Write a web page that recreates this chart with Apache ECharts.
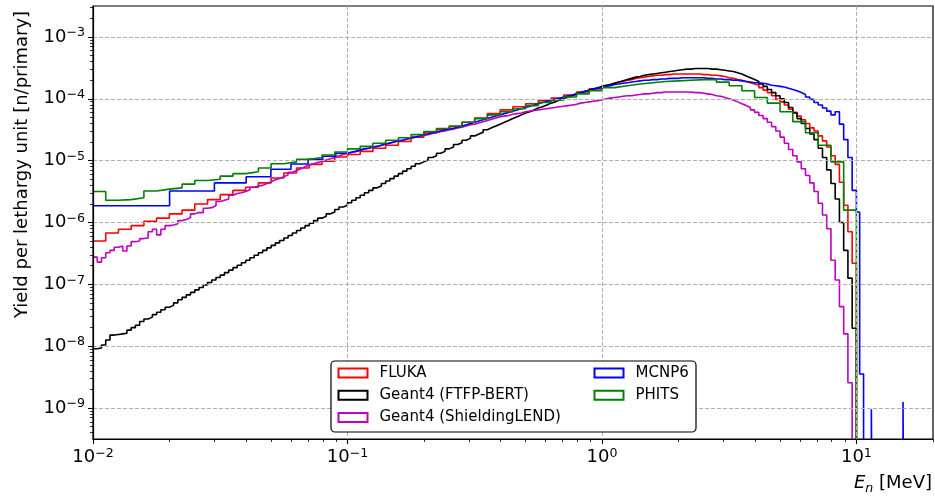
<!DOCTYPE html>
<html>
<head>
<meta charset="utf-8">
<script src="https://cdn.jsdelivr.net/npm/echarts@6.0.0/dist/echarts.min.js"></script>
<style>html,body{margin:0;padding:0;background:#fff}#chart{width:935px;height:500px}</style>
</head>
<body>
<div id="chart"></div>
<script>
// ---------------- data (log10 of yield per lethargy unit, n/primary) ----------------
const SERIES_NAMES = ['FLUKA', 'Geant4 (FTFP-BERT)', 'Geant4 (ShieldingLEND)', 'MCNP6', 'PHITS'];
const SERIES_COLORS = ['#ff0000', '#000000', '#bf00bf', '#0000ff', '#008000'];

// FLUKA: 20 bins/decade 0.01-1 MeV, then 60 bins/decade 1-10 MeV
const FLUKA_LOW_LOG = [
 -6.30,-6.17,-6.11,-6.05,-5.98,-5.93,-5.86,-5.80,-5.70,-5.63,
 -5.55,-5.48,-5.43,-5.36,-5.28,-5.20,-5.12,-5.06,-5.01,-4.94,
 -4.90,-4.85,-4.80,-4.75,-4.69,-4.62,-4.55,-4.50,-4.45,-4.38,
 -4.31,-4.24,-4.18,-4.13,-4.08,-4.03,-3.99,-3.94,-3.89,-3.84
];
const FLUKA_HIGH_LOG = [
 -3.79,-3.77,-3.75,-3.73,-3.72,-3.70,
 -3.69,-3.67,-3.66,-3.65,-3.64,-3.63,
 -3.62,-3.62,-3.61,-3.61,-3.60,-3.60,
 -3.60,-3.60,-3.60,-3.60,-3.60,-3.61,
 -3.61,-3.62,-3.62,-3.63,-3.64,-3.66,
 -3.67,-3.69,-3.70,-3.72,-3.74,-3.76,
 -3.78,-3.82,-3.86,-3.90,-3.95,-4.01,
 -4.05,-4.10,-4.17,-4.22,-4.28,-4.34,
 -4.40,-4.47,-4.52,-4.60,-4.68,-4.78,
 -4.92,-5.06,-5.35,-5.72,-6.15,-6.66
];

// Geant4 (FTFP-BERT): 60 bins/decade, 0.01-10 MeV
const G4_FTFP_LOG = [
 -8.04,-8.03,-7.98,-7.90,-7.82,-7.81,
 -7.80,-7.79,-7.74,-7.70,-7.66,-7.60,
 -7.56,-7.53,-7.49,-7.45,-7.41,-7.37,
 -7.34,-7.30,-7.25,-7.21,-7.17,-7.13,
 -7.09,-7.05,-7.01,-6.97,-6.93,-6.89,
 -6.85,-6.81,-6.77,-6.73,-6.69,-6.65,
 -6.61,-6.57,-6.53,-6.49,-6.45,-6.41,
 -6.37,-6.33,-6.29,-6.25,-6.21,-6.17,
 -6.13,-6.09,-6.05,-6.01,-5.97,-5.93,
 -5.90,-5.86,-5.83,-5.79,-5.75,-5.72,
 -5.68,-5.64,-5.60,-5.56,-5.52,-5.48,
 -5.44,-5.41,-5.37,-5.33,-5.29,-5.25,
 -5.21,-5.17,-5.13,-5.09,-5.05,-5.02,
 -4.99,-4.95,-4.92,-4.88,-4.85,-4.81,
 -4.78,-4.74,-4.71,-4.67,-4.64,-4.60,
 -4.57,-4.54,-4.50,-4.47,-4.44,-4.41,
 -4.38,-4.35,-4.32,-4.29,-4.26,-4.23,
 -4.21,-4.18,-4.15,-4.13,-4.10,-4.07,
 -4.05,-4.02,-4.00,-3.97,-3.95,-3.92,
 -3.90,-3.88,-3.86,-3.84,-3.82,-3.80,
 -3.78,-3.77,-3.75,-3.73,-3.71,-3.69,
 -3.67,-3.65,-3.64,-3.62,-3.61,-3.60,
 -3.59,-3.58,-3.57,-3.56,-3.55,-3.54,
 -3.53,-3.52,-3.52,-3.51,-3.51,-3.51,
 -3.51,-3.52,-3.52,-3.53,-3.54,-3.55,
 -3.56,-3.58,-3.60,-3.63,-3.66,-3.69,
 -3.72,-3.76,-3.80,-3.85,-3.90,-3.95,
 -4.00,-4.06,-4.14,-4.23,-4.32,-4.40,
 -4.48,-4.57,-4.66,-4.80,-4.95,-5.15,
 -5.37,-5.62,-6.00,-6.45,-6.90,-7.71
];

// Geant4 (ShieldingLEND): 60 bins/decade
const G4_SHIELD_LOG = [
 -6.56,-6.64,-6.57,-6.49,-6.45,-6.40,
 -6.38,-6.46,-6.38,-6.31,-6.30,-6.26,
 -6.25,-6.15,-6.11,-6.20,-6.11,-6.05,
 -6.04,-6.02,-5.97,-5.95,-5.92,-5.86,
 -5.84,-5.84,-5.77,-5.76,-5.73,-5.66,
 -5.64,-5.62,-5.56,-5.53,-5.52,-5.50,
 -5.47,-5.43,-5.41,-5.40,-5.37,-5.34,
 -5.31,-5.29,-5.26,-5.23,-5.19,-5.16,
 -5.13,-5.10,-5.07,-5.05,-5.03,-5.01,
 -4.99,-4.97,-4.95,-4.92,-4.90,-4.88,
 -4.87,-4.85,-4.83,-4.81,-4.80,-4.78,
 -4.77,-4.75,-4.73,-4.71,-4.70,-4.68,
 -4.67,-4.65,-4.64,-4.62,-4.61,-4.59,
 -4.58,-4.56,-4.55,-4.53,-4.52,-4.50,
 -4.49,-4.47,-4.46,-4.44,-4.42,-4.41,
 -4.39,-4.37,-4.35,-4.33,-4.31,-4.29,
 -4.28,-4.27,-4.25,-4.24,-4.23,-4.21,
 -4.20,-4.19,-4.18,-4.17,-4.16,-4.15,
 -4.14,-4.13,-4.12,-4.11,-4.10,-4.09,
 -4.07,-4.06,-4.05,-4.04,-4.03,-4.02,
 -4.00,-3.99,-3.98,-3.97,-3.96,-3.95,
 -3.95,-3.94,-3.93,-3.92,-3.92,-3.91,
 -3.90,-3.90,-3.89,-3.89,-3.89,-3.89,
 -3.89,-3.89,-3.89,-3.90,-3.90,-3.91,
 -3.92,-3.93,-3.95,-3.96,-3.98,-4.00,
 -4.02,-4.05,-4.08,-4.11,-4.14,-4.18,
 -4.22,-4.27,-4.32,-4.38,-4.45,-4.52,
 -4.62,-4.72,-4.82,-4.92,-5.02,-5.13,
 -5.24,-5.36,-5.50,-5.69,-5.88,-6.10,
 -6.61,-6.93,-7.36,-7.80,-8.59
];

// MCNP6: 0.01 MeV linear bins up to 0.1 MeV, 60 bins/decade 0.1-10 MeV, sparse tail
const MCNP_LOW_EDGES = [0.01,0.02,0.03,0.04,0.05,0.06,0.07,0.08,0.09,0.10];
const MCNP_LOW_LOG = [-5.73,-5.49,-5.36,-5.26,-5.14,-5.055,-4.98,-4.93,-4.88];
const MCNP_MID_LOG = [
 -4.86,-4.85,-4.83,-4.81,-4.80,-4.78,
 -4.77,-4.75,-4.73,-4.72,-4.70,-4.68,
 -4.67,-4.65,-4.63,-4.62,-4.60,-4.58,
 -4.57,-4.55,-4.54,-4.52,-4.50,-4.49,
 -4.48,-4.46,-4.44,-4.42,-4.40,-4.38,
 -4.36,-4.34,-4.32,-4.30,-4.28,-4.26,
 -4.24,-4.22,-4.20,-4.18,-4.16,-4.14,
 -4.12,-4.10,-4.08,-4.06,-4.04,-4.03,
 -4.01,-3.99,-3.97,-3.95,-3.94,-3.92,
 -3.90,-3.88,-3.87,-3.85,-3.83,-3.82,
 -3.80,-3.79,-3.77,-3.76,-3.75,-3.74,
 -3.73,-3.72,-3.71,-3.70,-3.70,-3.69,
 -3.69,-3.68,-3.68,-3.67,-3.67,-3.67,
 -3.66,-3.66,-3.66,-3.66,-3.66,-3.66,
 -3.67,-3.67,-3.68,-3.68,-3.69,-3.69,
 -3.70,-3.70,-3.71,-3.72,-3.73,-3.74,
 -3.74,-3.75,-3.76,-3.78,-3.79,-3.80,
 -3.81,-3.83,-3.85,-3.87,-3.90,-3.93,
 -3.97,-4.01,-4.06,-4.10,-4.15,-4.20,
 -4.26,-4.21,-4.41,-4.66,-4.95,-5.48
];
const MCNP_TAIL_EDGES = [10.3, 10.67, 11.45, 11.62, 15.25, 15.45];
const MCNP_TAIL_LOG = [-5.83, -8.45, null, -9.02, null, -8.90];

// PHITS: 20 bins/decade, 0.01-10 MeV
const PHITS_LOG = [
 -5.50,-5.64,-5.63,-5.60,-5.49,-5.46,-5.44,-5.38,-5.32,-5.30,
 -5.25,-5.21,-5.18,-5.12,-5.05,-5.02,-4.98,-4.95,-4.91,-4.86,
 -4.81,-4.77,-4.72,-4.67,-4.63,-4.58,-4.53,-4.48,-4.44,-4.38,
 -4.32,-4.26,-4.21,-4.16,-4.11,-4.06,-4.02,-3.97,-3.92,-3.87,
 -3.82,-3.79,-3.76,-3.74,-3.72,-3.71,-3.70,-3.69,-3.69,-3.73,
 -3.79,-3.87,-3.98,-4.07,-4.21,-4.37,-4.55,-4.75,-5.02,-5.80
];

// axis ticks
const X_MAJOR_TICKS = [0.01, 0.1, 1, 10];
const Y_MAJOR_TICKS = [1e-9, 1e-8, 1e-7, 1e-6, 1e-5, 1e-4, 1e-3];
const MINOR_MANTISSAS = [2, 3, 4, 5, 6, 7, 8, 9];
const X_MINOR_DECADES = [0.01, 0.1, 1, 10];
const Y_MINOR_DECADES = [1e-10, 1e-9, 1e-8, 1e-7, 1e-6, 1e-5, 1e-4, 1e-3];
const X_RANGE = [0.01, 20];
const Y_RANGE = [3.162e-10, 3.162e-3];

// ---------------- helpers ----------------
const FLOOR = 1e-14; // stands for an empty bin (zero) on the log axis
function logEdges(exp0, perDecade, n) {
  const e = [];
  for (let i = 0; i <= n; i++) e.push(Math.pow(10, exp0 + i / perDecade));
  return e;
}
function histogram(edges, logVals) {
  const pts = [];
  for (let i = 0; i < logVals.length; i++) {
    pts.push([edges[i], logVals[i] === null ? FLOOR : Math.pow(10, logVals[i])]);
  }
  const n = logVals.length;
  pts.push([edges[n], pts[pts.length - 1][1]]);
  pts.push([edges[n], FLOOR]);
  return pts;
}
function minorTicks(decades, lo, hi) {
  const out = [];
  decades.forEach(d => MINOR_MANTISSAS.forEach(m => {
    const v = m * d;
    if (v >= lo * 0.999 && v <= hi * 1.001) out.push(v);
  }));
  return out;
}

const flukaEdges = logEdges(-2, 20, 40).concat(logEdges(0, 60, 60).slice(1));
const flukaLog = FLUKA_LOW_LOG.concat(FLUKA_HIGH_LOG);
const ftfpEdges = logEdges(-2, 60, G4_FTFP_LOG.length);
const shieldEdges = logEdges(-2, 60, G4_SHIELD_LOG.length);
const mcnpEdges = MCNP_LOW_EDGES.concat(logEdges(-1, 60, 120).slice(1), MCNP_TAIL_EDGES);
const mcnpLog = MCNP_LOW_LOG.concat(MCNP_MID_LOG, MCNP_TAIL_LOG);
const phitsEdges = logEdges(-2, 20, PHITS_LOG.length);

const seriesData = [
  histogram(flukaEdges, flukaLog),
  histogram(ftfpEdges, G4_FTFP_LOG),
  histogram(shieldEdges, G4_SHIELD_LOG),
  histogram(mcnpEdges, mcnpLog),
  histogram(phitsEdges, PHITS_LOG)
];

// ---------------- chart ----------------
const FONT = 'DejaVu Sans';
const powLabel = v => {
  const e = Math.round(Math.log10(v));
  return '{b|10}{s|' + (e < 0 ? '\u2212' : '') + Math.abs(e) + '}';
};
const labelRich = {
  b: { fontFamily: FONT, fontSize: 18, color: '#000', lineHeight: 21, verticalAlign: 'middle' },
  s: { fontFamily: FONT, fontSize: 12.6, color: '#000', lineHeight: 21, verticalAlign: 'top' }
};
const GRID_LINE = { color: '#b0b0b0', width: 1, type: [4, 2] };

const chart = echarts.init(document.getElementById('chart'), null, { renderer: 'canvas' });
chart.setOption({
  animation: false,
  backgroundColor: '#fff',
  grid: { left: 93, right: 2, top: 6, bottom: 61, show: true, borderColor: '#000', borderWidth: 1.2, backgroundColor: 'transparent' },
  xAxis: [
    {
      type: 'log', logBase: 10, min: X_RANGE[0], max: X_RANGE[1], z: 3,
      axisLine: { show: true, lineStyle: { color: '#000', width: 1.2 } },
      axisTick: { show: true, length: 5, lineStyle: { color: '#000', width: 1.1 }, customValues: X_MAJOR_TICKS },
      axisLabel: { margin: 8, customValues: X_MAJOR_TICKS, formatter: powLabel, rich: labelRich },
      splitLine: { show: true, lineStyle: GRID_LINE },
      minorTick: { show: false },
      name: '{i|E}{n|n}{t| [MeV]}',
      nameLocation: 'end', nameGap: -1,
      nameTextStyle: {
        align: 'right', verticalAlign: 'top', padding: [32, 0, 0, 0],
        rich: {
          i: { fontFamily: FONT, fontStyle: 'italic', fontSize: 18, color: '#000', lineHeight: 24, verticalAlign: 'middle' },
          n: { fontFamily: FONT, fontStyle: 'italic', fontSize: 12.6, color: '#000', lineHeight: 24, verticalAlign: 'bottom' },
          t: { fontFamily: FONT, fontSize: 18, color: '#000', lineHeight: 24, verticalAlign: 'middle' }
        }
      }
    },
    {
      type: 'log', logBase: 10, min: X_RANGE[0], max: X_RANGE[1], position: 'bottom', z: 3,
      axisLine: { show: false },
      axisTick: { show: true, length: 3, lineStyle: { color: '#000', width: 0.8 }, customValues: minorTicks(X_MINOR_DECADES, X_RANGE[0], X_RANGE[1]) },
      axisLabel: { show: false },
      splitLine: { show: false }
    }
  ],
  yAxis: [
    {
      type: 'log', logBase: 10, min: Y_RANGE[0], max: Y_RANGE[1], z: 3,
      axisLine: { show: true, lineStyle: { color: '#000', width: 1.2 } },
      axisTick: { show: true, length: 5, lineStyle: { color: '#000', width: 1.1 }, customValues: Y_MAJOR_TICKS },
      axisLabel: { margin: 8, customValues: Y_MAJOR_TICKS, formatter: powLabel, rich: labelRich },
      splitLine: { show: true, lineStyle: GRID_LINE },
      name: 'Yield per lethargy unit [n/primary]',
      nameLocation: 'middle', nameGap: 62,
      nameTextStyle: { fontFamily: FONT, fontSize: 18, color: '#000', padding: [0, 0, 0, 116] }
    },
    {
      type: 'log', logBase: 10, min: Y_RANGE[0], max: Y_RANGE[1], position: 'left', z: 3,
      axisLine: { show: false },
      axisTick: { show: true, length: 3, lineStyle: { color: '#000', width: 0.8 }, customValues: minorTicks(Y_MINOR_DECADES, Y_RANGE[0], Y_RANGE[1]) },
      axisLabel: { show: false },
      splitLine: { show: false }
    }
  ],
  graphic: [{
    type: 'rect', z: 4, silent: true,
    shape: { x: 331, y: 361, width: 365, height: 71, r: 4 },
    style: { fill: '#fff', stroke: '#000', lineWidth: 1.2 }
  }],
  legend: [
    {
      data: SERIES_NAMES.slice(0, 3), orient: 'vertical', left: 337.5, top: 365.5,
      itemWidth: 29, itemHeight: 9, itemGap: 7.2, icon: 'emptyRect', padding: 0, selectedMode: false, z: 6,
      textStyle: { fontFamily: FONT, fontSize: 15, color: '#000', padding: [0, 0, 0, 7] }
    },
    {
      data: SERIES_NAMES.slice(3), orient: 'vertical', left: 593.5, top: 365.5,
      itemWidth: 29, itemHeight: 9, itemGap: 7.2, icon: 'emptyRect', padding: 0, selectedMode: false, z: 6,
      textStyle: { fontFamily: FONT, fontSize: 15, color: '#000', padding: [0, 0, 0, 7] }
    }
  ],
  series: SERIES_NAMES.map((name, i) => ({
    name, type: 'line', xAxisIndex: 0, yAxisIndex: 0,
    data: seriesData[i], step: 'end', showSymbol: false, symbol: 'none',
    color: SERIES_COLORS[i],
    lineStyle: { color: SERIES_COLORS[i], width: 1.6 },
    z: 2 + i * 0.01, clip: true, silent: true
  }))
});
</script>
</body>
</html>
